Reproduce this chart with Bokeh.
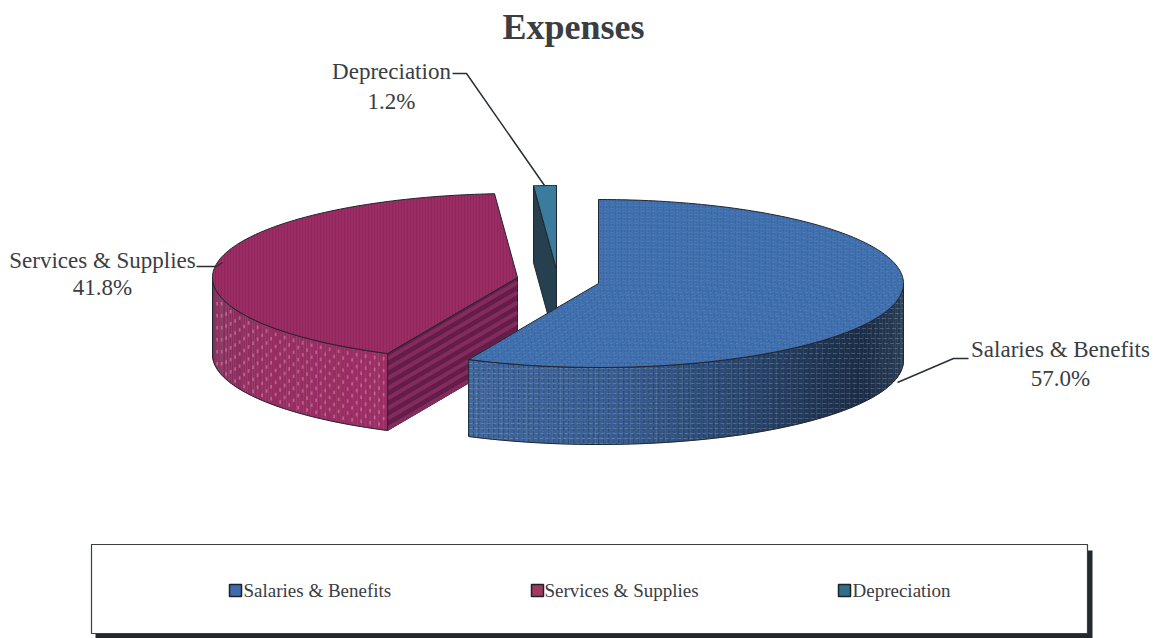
import numpy as np
from bokeh.plotting import figure
from bokeh.embed import file_html
from bokeh.resources import INLINE
from bokeh.models import Range1d
from bokeh.core.properties import value

# Expense shares, in percent
categories = ["Salaries & Benefits", "Services & Supplies", "Depreciation"]
shares = [57.0, 41.8, 1.2]

title_text = "Expenses"
top_colors = ["#4170ae", "#9c2d64", "#3b7c9e"]
swatch_colors = ["#3f6cad", "#a03a62", "#2f6f8c"]

# Pie layout on the page, in pixels
RX, RY, DEPTH = 305, 84, 77
centres = [(598, 283), (517, 277), (556, 269)]
FONT = value("Liberation Serif")
INK = "#3a3d42"
EDGE = "#1f2730"

p = figure(width=1157, height=638, output_backend="svg", toolbar_location=None,
           x_range=Range1d(0, 1157), y_range=Range1d(638, 0), min_border=0)
p.axis.visible = False
p.grid.visible = False
p.outline_line_color = None
p.background_fill_color = "#ffffff"
p.border_fill_color = "#ffffff"


def rim(cx, cy, a, b, n=160):
    t = np.linspace(a, b, n)
    return cx + RX * np.sin(t), cy - RY * np.cos(t)


def clip_lines(px, py, positions, vertical=True):
    """Cut parallel lines to a polygon, returning the inside segments."""
    u, v = (np.asarray(px), np.asarray(py)) if vertical else (np.asarray(py), np.asarray(px))
    us, vs = [], []
    for c in positions:
        u2, v2 = np.roll(u, -1), np.roll(v, -1)
        hit = ((u <= c) & (u2 > c)) | ((u2 <= c) & (u > c))
        cross = np.sort(v[hit] + (c - u[hit]) / (u2[hit] - u[hit]) * (v2[hit] - v[hit]))
        for i in range(0, len(cross) - 1, 2):
            us.append([c, c])
            vs.append([cross[i], cross[i + 1]])
    return (us, vs) if vertical else (vs, us)


def texture(px, py, vstep, hstep, vcol, hcol, valpha, halpha, dash="2 2", width=1.0):
    if vstep:
        xs, ys = clip_lines(px, py, np.arange(min(px), max(px), vstep), True)
        p.multi_line(xs, ys, line_color=vcol, line_alpha=valpha, line_width=width, line_dash=dash)
    if hstep:
        xs, ys = clip_lines(px, py, np.arange(min(py), max(py), hstep), False)
        p.multi_line(xs, ys, line_color=hcol, line_alpha=halpha, line_width=width, line_dash=dash)


def mix(c1, c2, f):
    a = np.array([int(c1[i:i + 2], 16) for i in (1, 3, 5)])
    b = np.array([int(c2[i:i + 2], 16) for i in (1, 3, 5)])
    r = (a + (b - a) * f).astype(int)
    return "#%02x%02x%02x" % tuple(r)


def side_strips(cx, cy, a, b, stops, n=70):
    """Outer wall of a slice, filled strip by strip for a shaded surface."""
    t = np.linspace(a, b, n + 1)
    x, y = cx + RX * np.sin(t), cy - RY * np.cos(t)
    xs, ys, cols = [], [], []
    lo, hi = x.min(), x.max()
    fx = [s[0] for s in stops]
    for i in range(n):
        xs.append([x[i], x[i + 1], x[i + 1], x[i]])
        ys.append([y[i], y[i + 1], y[i + 1] + DEPTH, y[i] + DEPTH])
        f = ((x[i] + x[i + 1]) / 2 - lo) / (hi - lo)
        j = min(np.searchsorted(fx, f), len(stops) - 1)
        j = max(j, 1)
        g = (f - fx[j - 1]) / (fx[j] - fx[j - 1])
        cols.append(mix(stops[j - 1][1], stops[j][1], float(np.clip(g, 0, 1))))
    p.patches(xs, ys, fill_color=cols, line_color=cols, line_width=0.5)
    return x, y


edges = np.concatenate([[0], np.cumsum(shares)]) / sum(shares) * 2 * np.pi

# Services & Supplies, behind the other slices
cx, cy = centres[1]
a, b = edges[1], edges[2]
corner_x, corner_y = cx + RX * np.sin(a), cy - RY * np.cos(a)
# inner wall facing the viewer, with its broad stripes
p.patch([cx, corner_x, corner_x, cx], [cy, corner_y, corner_y + DEPTH, cy + DEPTH],
        fill_color="#641c49", line_color=EDGE, line_width=1)
stripe_depths = np.arange(5, DEPTH, 10)
p.multi_line([[corner_x, cx] for _ in stripe_depths],
             [[corner_y + d, cy + d] for d in stripe_depths],
             line_color="#8a2e60", line_width=4, line_alpha=0.85)
# outer wall with its raised dots
wall_end = 3 * np.pi / 2
wx, wy = side_strips(cx, cy, a, wall_end, [(0, "#85305d"), (0.3, "#962f62"), (1, "#9c2e65")])
dot_x, dot_y, dot_y2 = [], [], []
for row, d in enumerate(np.arange(4, DEPTH - 3, 6)):
    for col_x in np.arange(corner_x - 4 - (row % 2) * 4.5, cx - RX + 2, -9):
        s = np.arcsin((col_x - cx) / RX)
        top = cy - RY * np.cos(np.pi - s)
        dot_x.append(col_x)
        dot_y.append(top + d)
        dot_y2.append(top + d + 3.5)
p.segment(dot_x, dot_y, dot_x, dot_y2, line_color="#d97fa8", line_width=1.8, line_alpha=0.6)
wpx = np.concatenate([wx, wx[::-1]])
wpy = np.concatenate([wy, wy[::-1] + DEPTH])
p.patch(wpx, wpy, fill_color=None, line_color=EDGE, line_width=1)
# top face with fine vertical ribs
rx_, ry_ = rim(cx, cy, a, b)
tx = np.concatenate([[cx], rx_])
ty = np.concatenate([[cy], ry_])
p.patch(tx, ty, fill_color=top_colors[1], line_color=None)
texture(tx, ty, 3, 0, "#7e1f52", "#7e1f52", 0.4, 0, dash="solid", width=1.0)
p.patch(tx, ty, fill_color=None, line_color=EDGE, line_width=1)

# Depreciation, pulled out at the back of the pie
cx, cy = centres[2]
a, b = edges[2], edges[3]
rx_, ry_ = rim(cx, cy, a, b, 12)
p.patch([cx, rx_[0], rx_[0], cx], [cy, ry_[0], ry_[0] + DEPTH, cy + DEPTH],
        fill_color="#27404f", line_color=EDGE, line_width=1)
p.patch(np.concatenate([[cx], rx_]), np.concatenate([[cy], ry_]),
        fill_color=top_colors[2], line_color=EDGE, line_width=1)
p.line([cx, cx], [ry_[-1], cy + DEPTH], line_color=EDGE, line_width=1)

# Salaries & Benefits, drawn last so it sits in front
cx, cy = centres[0]
a, b = edges[0], edges[1]
wx, wy = side_strips(cx, cy, np.pi / 2, b,
                     [(0, "#41699f"), (0.35, "#3a5e92"), (0.65, "#2a466c"), (0.9, "#1c2d46"), (1, "#2a3e56")])
wpx = np.concatenate([wx, wx[::-1]])
wpy = np.concatenate([wy, wy[::-1] + DEPTH])
texture(wpx, wpy, 5, 5, "#14233c", "#b4c8e4", 0.3, 0.26, dash="4 2", width=1.2)
p.patch(wpx, wpy, fill_color=None, line_color=EDGE, line_width=1)
rx_, ry_ = rim(cx, cy, a, b, 240)
tx = np.concatenate([[cx], rx_])
ty = np.concatenate([[cy], ry_])
p.patch(tx, ty, fill_color=top_colors[0], line_color=None)
texture(tx, ty, 3, 3, "#2c528e", "#6d93c9", 0.35, 0.3, dash="3 3")
p.patch(tx, ty, fill_color=None, line_color=EDGE, line_width=1)

# Leader lines
p.multi_line([[452, 466, 544], [196, 216, 222], [968, 953, 897]],
             [[73, 73, 185], [266, 266, 262], [358, 358, 382]],
             line_color="#2a2f35", line_width=1.5)

# Slice labels
label_x = [1060, 102, 391]
label_y = [349, 260, 71]
pct_y = [378, 287, 101]
p.text(label_x, label_y, text=categories, text_font=FONT, text_font_size="23px",
       text_align="center", text_baseline="middle", text_color=INK)
p.text(label_x, pct_y, text=[f"{v:.1f}%" for v in shares], text_font=FONT, text_font_size="23px",
       text_align="center", text_baseline="middle", text_color=INK)
p.text([573], [26], text=[title_text], text_font=FONT, text_font_size="36px",
       text_font_style="bold", text_align="center", text_baseline="middle", text_color=INK)

# Legend panel with its drop shadow
p.quad(left=[95], right=[1092], top=[550], bottom=[638], fill_color="#22282c", line_color=None)
p.quad(left=[91], right=[1087], top=[544], bottom=[633], fill_color="#ffffff", line_color="#3a3f44", line_width=1.2)
swatch_x = [235, 537, 844]
p.rect(swatch_x, [590] * 3, width=12, height=12, fill_color=swatch_colors, line_color="#1d2228", line_width=1.5)
p.text([243, 544, 852], [590] * 3, text=categories, text_font=FONT, text_font_size="19px",
       text_align="left", text_baseline="middle", text_color=INK)

open("out.html", "w").write(file_html(p, INLINE))
